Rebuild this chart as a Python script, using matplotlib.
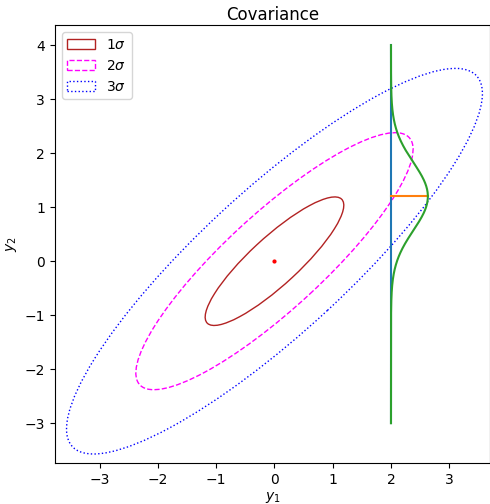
import numpy as np
import matplotlib
matplotlib.use('Agg')
import matplotlib.pyplot as plt
from matplotlib.patches import Ellipse
import matplotlib.transforms as transforms

# 二维高斯分布参数
mean = [0.0, 0.0]
sigma1 = 1.19
sigma2 = 1.19
rho = 0.87

# 切片位置与一维高斯
y1_slice = 2.0
mu_slice = 1.2
sigma_slice = 0.63
y2_range = [-3.0, 4.0]

n_stds = [1, 2, 3]
labels = [r'$1\sigma$', r'$2\sigma$', r'$3\sigma$']
colors = ['firebrick', 'fuchsia', 'blue']
styles = ['-', '--', ':']


def draw_ellipse(ax, n_std, **kwargs):
    # 按相关系数画单位椭圆，再缩放平移
    rx = np.sqrt(1 + rho)
    ry = np.sqrt(1 - rho)
    ell = Ellipse((0, 0), width=rx * 2, height=ry * 2, facecolor='none', **kwargs)
    tr = transforms.Affine2D().rotate_deg(45) \
        .scale(sigma1 * n_std, sigma2 * n_std) \
        .translate(mean[0], mean[1])
    ell.set_transform(tr + ax.transData)
    return ax.add_patch(ell)


fig, ax = plt.subplots(figsize=(4.9, 5.04), dpi=100)
fig.subplots_adjust(left=0.112, right=1.0, top=0.95, bottom=0.081)

for n, lab, c, ls in zip(n_stds, labels, colors, styles):
    draw_ellipse(ax, n, edgecolor=c, linestyle=ls, label=lab)

ax.plot(mean[0], mean[1], 'r.', markersize=4)

yy = np.linspace(y2_range[0], y2_range[1], 500)
pdf = np.exp(-0.5 * ((yy - mu_slice) / sigma_slice) ** 2) / (sigma_slice * np.sqrt(2 * np.pi))
peak = 1 / (sigma_slice * np.sqrt(2 * np.pi))

ax.plot([y1_slice, y1_slice], y2_range)
ax.plot([y1_slice, y1_slice + peak], [mu_slice, mu_slice])
ax.plot(y1_slice + pdf, yy)

ax.set_xlim(-3.77, 3.70)
ax.set_ylim(-3.74, 4.37)
ax.set_xlabel('$y_1$', labelpad=2)
ax.set_ylabel('$y_2$')
ax.set_title('Covariance', pad=4)
ax.legend(loc='upper left')

plt.savefig('out.png')
